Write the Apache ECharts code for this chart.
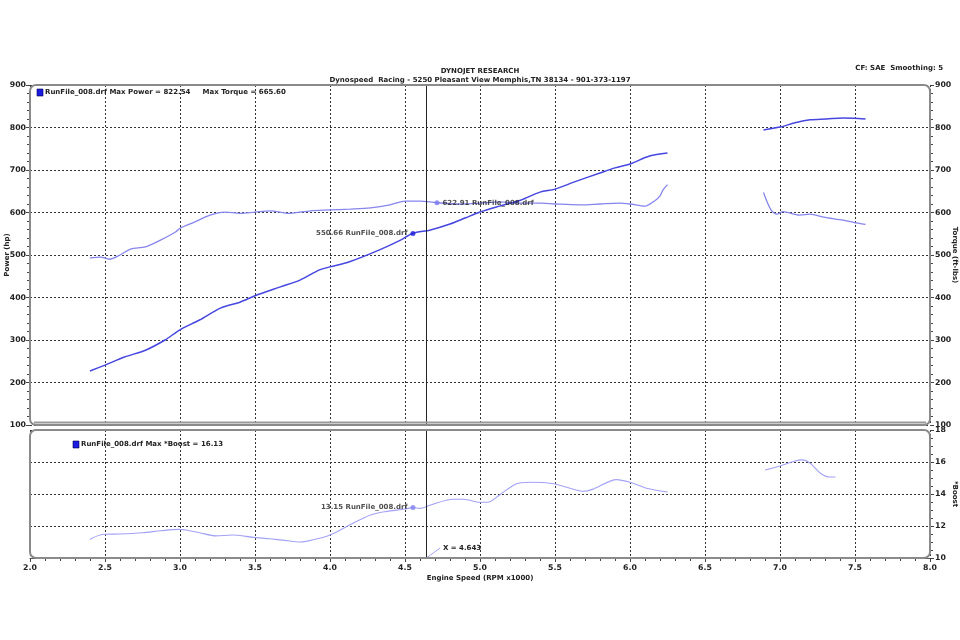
<!DOCTYPE html>
<html>
<head>
<meta charset="utf-8">
<script src="https://cdn.jsdelivr.net/npm/echarts@6/dist/echarts.min.js"></script>
<style>html,body{margin:0;padding:0;background:#fff}#c{width:960px;height:640px}</style>
</head>
<body>
<div id="c"></div>
<script>
// ---- data ----
const rpmPowerA = [2.40,2.50,2.63,2.77,2.90,3.00,3.13,3.27,3.40,3.50,3.67,3.80,3.93,4.00,4.13,4.33,4.47,4.55,4.67,4.80,4.90,5.00,5.13,5.27,5.40,5.50,5.63,5.80,5.90,6.00,6.13,6.25];
const powerA    = [227,241,260,276,300,324,347,375,389,404,425,441,465,472,484,512,535,550.66,559,573,587,601,615,629,648,655,672,693,705,714,733,740];
const rpmPowerB = [6.89,7.00,7.10,7.20,7.31,7.42,7.49,7.57];
const powerB    = [794,801,811,818,820,822.54,822,820];

const rpmTorqueA = [2.40,2.47,2.53,2.60,2.67,2.77,2.87,2.97,3.00,3.10,3.20,3.30,3.40,3.50,3.60,3.73,3.87,4.00,4.13,4.27,4.40,4.50,4.60,4.71,4.87,5.00,5.13,5.27,5.40,5.50,5.67,5.80,5.93,6.00,6.10,6.17,6.20,6.22,6.25];
const torqueA    = [493,495,490,500,514,519,535,554,563,578,594,601,598,601,604,598,604,606,608,611,618,627,627,622.91,620,622,625,622,622,620,618,620,622,620,615,629,639,653,665.6];
const rpmTorqueB = [6.89,6.94,6.98,7.02,7.13,7.20,7.29,7.42,7.49,7.57];
const torqueB    = [647,606,596,602,594,596,589,582,577,572];

const rpmBoostA = [2.40,2.49,2.60,2.75,2.87,2.99,3.04,3.13,3.24,3.35,3.49,3.60,3.70,3.80,3.87,4.00,4.13,4.27,4.37,4.50,4.55,4.60,4.67,4.82,4.89,5.00,5.05,5.13,5.24,5.33,5.49,5.60,5.69,5.75,5.91,6.00,6.11,6.25];
const boostA    = [11.17,11.48,11.5,11.58,11.7,11.79,11.75,11.58,11.38,11.44,11.29,11.2,11.1,11.0,11.1,11.44,12.06,12.69,12.9,13.06,13.15,13.1,13.31,13.67,13.67,13.48,13.48,13.94,14.63,14.73,14.64,14.36,14.17,14.29,14.9,14.73,14.36,14.13];
const rpmBoostB = [6.90,7.00,7.10,7.15,7.20,7.27,7.33,7.37];
const boostB    = [15.5,15.75,16.06,16.13,15.94,15.3,15.06,15.06];

const cursorX = 4.643;
const markPower = [4.553, 550.66];
const markTorque = [4.713, 622.91];
const markBoost = [4.553, 13.15];
const cursorLeader = [[4.643, 10], [4.733, 10.62]];

const xTicks = [2.0,2.5,3.0,3.5,4.0,4.5,5.0,5.5,6.0,6.5,7.0,7.5,8.0];
const powerTicks = [100,200,300,400,500,600,700,800,900];
const boostTicks = [10,12,14,16,18];

const fileName = 'RunFile_008.drf';
const maxPower = '822.54', maxTorque = '665.60', maxBoost = '16.13';

// ---- styles ----
const FONT = 'DejaVu Sans';
const cPower = '#4646e0', cTorque = '#8686ee', cBoost = '#a2a2f6';
const gridLine = {show: true, lineStyle: {color: '#333', type: [2, 2], width: 1}};
const lbl = {fontFamily: FONT, fontWeight: 'bold', fontSize: 7.8, color: '#222'};
const txt = {fontFamily: FONT, fontWeight: 'bold', fontSize: 7, color: '#222'};
const zip = (a, b) => a.map((v, i) => [v, b[i]]);

const chart = echarts.init(document.getElementById('c'), null, {renderer: 'canvas'});

function line(name, x, y, color, width, xi, yi) {
  return {type: 'line', name, xAxisIndex: xi, yAxisIndex: yi, data: zip(x, y),
    showSymbol: false, symbol: 'none', smooth: 0.3, lineStyle: {color, width}, z: 3, animation: false};
}

const option = {
  animation: false,
  backgroundColor: '#fff',
  title: [
    {text: 'DYNOJET RESEARCH', left: 'center', top: 63, textStyle: {...txt}},
    {text: 'Dynospeed  Racing - 5250 Pleasant View Memphis,TN 38134 - 901-373-1197', left: 'center', top: 72, textStyle: {...txt}},
    {text: 'CF: SAE  Smoothing: 5', right: 12, top: 60, textStyle: {...txt}}
  ],
  grid: [
    {left: 30, right: 30, top: 85, height: 340, show: false, containLabel: false, outerBoundsMode: 'none'},
    {left: 30, right: 30, top: 430, height: 128, show: false, containLabel: false, outerBoundsMode: 'none'}
  ],
  xAxis: [
    {type: 'value', gridIndex: 0, min: 2, max: 8, interval: 0.5, axisLine: {show: false}, axisTick: {show: false}, axisLabel: {show: false}, splitLine: gridLine},
    {type: 'value', gridIndex: 1, min: 2, max: 8, interval: 0.5,
      axisLine: {show: true, lineStyle: {color: '#555', width: 1}},
      axisTick: {show: true, length: 4, lineStyle: {color: '#444'}},
      minorTick: {show: true, splitNumber: 5, length: 3, lineStyle: {color: '#444'}},
      axisLabel: {...lbl, margin: 6, formatter: v => v.toFixed(1)},
      splitLine: gridLine,
      name: 'Engine Speed (RPM x1000)', nameLocation: 'middle', nameGap: 17, nameMoveOverlap: false, nameTextStyle: {...txt}}
  ],
  yAxis: [
    {type: 'value', gridIndex: 0, position: 'left', min: 100, max: 900, interval: 100,
      axisLine: {show: false}, axisTick: {show: true, length: 4, lineStyle: {color: '#444'}},
      minorTick: {show: true, splitNumber: 5, length: 3, lineStyle: {color: '#444'}},
      axisLabel: {...lbl, margin: 4}, splitLine: gridLine,
      name: 'Power (hp)', nameLocation: 'middle', nameGap: 19, nameRotate: 90, nameMoveOverlap: false, nameTextStyle: {...txt}},
    {type: 'value', gridIndex: 0, position: 'right', min: 100, max: 900, interval: 100,
      axisLine: {show: false}, axisTick: {show: true, length: 4, lineStyle: {color: '#444'}},
      minorTick: {show: true, splitNumber: 5, length: 3, lineStyle: {color: '#444'}},
      axisLabel: {...lbl, margin: 5}, splitLine: {show: false},
      name: 'Torque (ft-lbs)', nameLocation: 'middle', nameGap: 21, nameRotate: -90, nameMoveOverlap: false, nameTextStyle: {...txt}},
    {type: 'value', gridIndex: 1, position: 'left', min: 10, max: 18, interval: 2,
      axisLine: {show: false}, axisTick: {show: false}, axisLabel: {show: false}, splitLine: gridLine},
    {type: 'value', gridIndex: 1, position: 'right', min: 10, max: 18, interval: 2,
      axisLine: {show: false}, axisTick: {show: true, length: 4, lineStyle: {color: '#444'}},
      minorTick: {show: true, splitNumber: 4, length: 3, lineStyle: {color: '#444'}},
      axisLabel: {...lbl, margin: 5}, splitLine: {show: false},
      name: '*Boost', nameLocation: 'middle', nameGap: 21, nameRotate: -90, nameMoveOverlap: false, nameTextStyle: {...txt}}
  ],
  series: [
    line('TorqueA', rpmTorqueA, torqueA, cTorque, 1.3, 0, 1),
    line('TorqueB', rpmTorqueB, torqueB, cTorque, 1.3, 0, 1),
    line('PowerA', rpmPowerA, powerA, cPower, 1.5, 0, 0),
    line('PowerB', rpmPowerB, powerB, cPower, 1.5, 0, 0),
    line('BoostA', rpmBoostA, boostA, cBoost, 1.1, 1, 3),
    line('BoostB', rpmBoostB, boostB, cBoost, 1.1, 1, 3),
    {type: 'scatter', xAxisIndex: 0, yAxisIndex: 0, data: [markPower], symbolSize: 5, itemStyle: {color: '#1a1ad8'}, z: 5,
      label: {show: true, position: 'left', distance: 3, formatter: '550.66 ' + fileName, ...txt}},
    {type: 'scatter', xAxisIndex: 0, yAxisIndex: 1, data: [markTorque], symbolSize: 5, itemStyle: {color: '#7b7bee'}, z: 5,
      label: {show: true, position: 'right', distance: 3, formatter: '622.91 ' + fileName, ...txt}},
    {type: 'scatter', xAxisIndex: 1, yAxisIndex: 3, data: [markBoost], symbolSize: 5, itemStyle: {color: '#8080f0'}, z: 5,
      label: {show: true, position: 'left', distance: 3, formatter: '13.15 ' + fileName, ...txt}},
    {type: 'line', xAxisIndex: 1, yAxisIndex: 3, data: cursorLeader, symbol: 'none', lineStyle: {color: cBoost, width: 1}, z: 5,
      endLabel: {show: true, formatter: 'X = 4.643', ...txt, distance: 3}},
    {type: 'line', xAxisIndex: 0, yAxisIndex: 0, data: [], markLine: {silent: true, symbol: 'none', label: {show: false},
      lineStyle: {color: '#222', width: 1, type: 'solid'}, data: [{xAxis: cursorX}]}},
    {type: 'line', xAxisIndex: 1, yAxisIndex: 2, data: [], markLine: {silent: true, symbol: 'none', label: {show: false},
      lineStyle: {color: '#222', width: 1, type: 'solid'}, data: [{xAxis: cursorX}]}}
  ],
  graphic: [
    {type: 'rect', shape: {x: 30, y: 85, width: 900, height: 340, r: 6}, style: {fill: 'none', stroke: '#8a8a8a', lineWidth: 2}, z: 10},
    {type: 'line', shape: {x1: 34, y1: 422.5, x2: 926, y2: 422.5}, style: {stroke: '#9a9a9a', lineWidth: 2}, z: 10},
    {type: 'rect', shape: {x: 30, y: 430, width: 900, height: 128, r: 6}, style: {fill: 'none', stroke: '#8a8a8a', lineWidth: 2}, z: 10},
    {type: 'rect', shape: {x: 37, y: 89, width: 6, height: 7}, style: {fill: '#1c1ce0', stroke: '#000050', lineWidth: 0.6}, z: 11},
    {type: 'text', x: 45, y: 89, style: {text: fileName + ' Max Power = ' + maxPower + '     Max Torque = ' + maxTorque, font: 'bold 7px ' + FONT, fill: '#222'}, z: 11},
    {type: 'rect', shape: {x: 73, y: 441, width: 6, height: 7}, style: {fill: '#1c1ce0', stroke: '#000050', lineWidth: 0.6}, z: 11},
    {type: 'text', x: 81, y: 441, style: {text: fileName + ' Max *Boost = ' + maxBoost, font: 'bold 7px ' + FONT, fill: '#222'}, z: 11}
  ]
};
chart.setOption(option);
</script>
</body>
</html>
